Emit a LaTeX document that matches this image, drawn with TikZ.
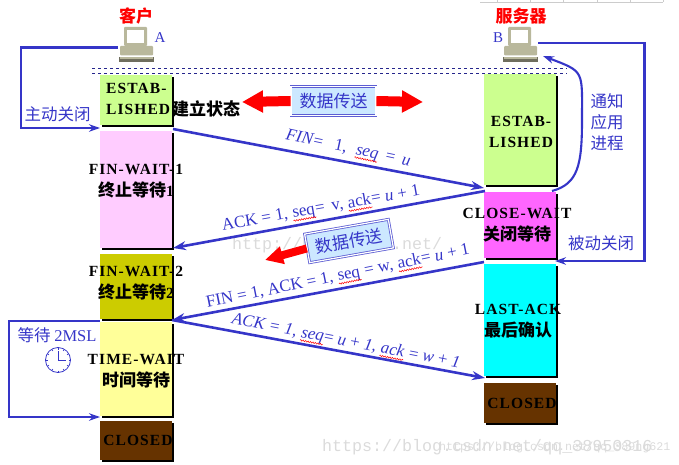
\documentclass[tikz,border=0pt]{standalone}
\usepackage{fontspec}
\usepackage{tikz}
\usetikzlibrary{arrows.meta,shadows,decorations.pathmorphing}
\setmainfont{Liberation Serif}
\newfontfamily\cjk{Noto Sans CJK SC}
\newfontfamily\statefont[LetterSpace=7]{Liberation Serif}
\newfontfamily\markfont{Liberation Mono}
\definecolor{flowblue}{HTML}{3535C8}
\definecolor{boxblue}{HTML}{CCE8FF}
\definecolor{hostgray}{HTML}{B9B89C}
\definecolor{closedbrown}{HTML}{663300}
\newcommand{\spellmark}[1]{\tikz[baseline=(word.base),x=1pt,y=1pt]{\node[inner sep=0pt] (word) {#1};
  \draw[red,line width=0.5pt,decorate,decoration={snake,amplitude=0.7pt,segment length=2.5pt}] ([yshift=-3pt]word.base west) -- ([yshift=-3pt]word.base east);}}

\tikzset{
  computer/.pic={
    \fill[hostgray,rounded corners=1pt] (-12,-18) rectangle (11,1);
    \fill[white] (-9,-15) rectangle (8,-2);
    \fill[hostgray,rounded corners=1pt] (-16,1) rectangle (17,10.5);
    \fill[hostgray!60!black] (-17,12) rectangle (18,17.5);
    \fill[hostgray] (-16,12) rectangle (17,14.5);
  }
}

\begin{document}
\begin{tikzpicture}[
  x=1pt,y=-1pt,
  statebox/.style={inner sep=0pt,minimum width=72pt,
    drop shadow={shadow xshift=2pt,shadow yshift=-2pt,fill=black,opacity=1}},
  statetext/.style={align=center,inner sep=0pt,font=\fontsize{15.5}{21.5}\selectfont\statefont\bfseries},
  hostbox/.style={inner sep=0pt,minimum width=36pt,minimum height=36pt},
  flow/.style={draw=flowblue,line width=2.6pt},
  flowarrow/.style={flow,-{Stealth[length=13pt,width=9pt]}},
  loopline/.style={draw=flowblue,line width=2.1pt,-{Stealth[length=11pt,width=7.5pt]}},
  msgtext/.style={inner sep=0pt,text=flowblue,font=\fontsize{17}{18}\selectfont},
  notetext/.style={inner sep=0pt,text=flowblue,align=center,font=\fontsize{16.5}{21}\selectfont\cjk},
  titletext/.style={inner sep=0pt,text=red,font=\fontsize{17}{18}\selectfont\cjk\bfseries},
  databox/.style={draw=flowblue!80,line width=0.8pt,double=white,double distance=1.2pt,fill=boxblue,inner sep=0pt,
    minimum width=85pt,minimum height=29pt,text=flowblue,font=\fontsize{17}{18}\selectfont\cjk},
  bigarrow/.style={draw=red,line width=10pt,-{Triangle[length=21pt,width=21pt]}},
  smallarrow/.style={draw=red,line width=8pt,-{Triangle[length=18pt,width=17pt]}},
  watermark/.style={inner sep=0pt,text=black!14,font=\fontsize{16.67}{18}\selectfont\markfont}
]
  \useasboundingbox (0,0) rectangle (679,465);
  % table remains at the top edge
  \draw[black!20,line width=0.8pt] (480,2.5) -- (663,2.5);
  \foreach \gridx in {497,530,563,597,630,663}
    \draw[black!20,line width=0.8pt] (\gridx,0) -- (\gridx,2.5);

  % watermarks
  \node[watermark,anchor=west] (markmid) at (232,245) {http://blog.csdn.net/};
  \node[watermark,anchor=west] (markbig) at (322,447) {https://blog.csdn.net/qq\_38950316};
  \node[watermark,anchor=west,font=\fontsize{11.67}{14}\selectfont\markfont] (marksmall) at (439,447) {https://blog.csdn.net/qq\_389ng621};

  % hosts
  \node[hostbox] (hostA) at (136,45) {};
  \pic at (hostA) {computer};
  \node[hostbox] (hostB) at (520,45) {};
  \pic at (hostB) {computer};
  \node[titletext] (titleA) at (136,16) {客户};
  \node[titletext] (titleB) at (521,16) {服务器};
  \node[inner sep=0pt,text=flowblue,font=\fontsize{15}{18}\selectfont] (nameA) at (160,38) {A};
  \node[inner sep=0pt,text=flowblue,font=\fontsize{15}{18}\selectfont] (nameB) at (498,38) {B};

  % dashed rules
  \coordinate (ruleAa) at (92,68);
  \coordinate (ruleAb) at (567,68);
  \coordinate (ruleBa) at (92,73);
  \coordinate (ruleBb) at (567,73);
  \draw[flowblue!70!black,dashed,line width=0.8pt] (ruleAa) -- (ruleAb);
  \draw[flowblue!70!black,dashed,line width=0.8pt] (ruleBa) -- (ruleBb);

  % client states
  \node[statebox,fill={rgb,255:red,204;green,255;blue,143},minimum height=50pt] (estabA) at (136,100) {};
  \node[statebox,fill={rgb,255:red,255;green,204;blue,255},minimum height=117pt] (finoneA) at (136,189.5) {};
  \node[statebox,fill={rgb,255:red,204;green,204;blue,0},minimum height=65pt] (fintwoA) at (136,286.5) {};
  \node[statebox,fill={rgb,255:red,255;green,255;blue,153},minimum height=94pt] (timeA) at (136,369) {};
  \node[statebox,fill=closedbrown,minimum height=39pt] (closedA) at (136,440.5) {};

  % server states
  \node[statebox,fill={rgb,255:red,204;green,255;blue,143},minimum height=111pt] (estabB) at (520,129.5) {};
  \node[statebox,fill={rgb,255:red,255;green,102;blue,255},minimum height=66pt] (closewaitB) at (520,225) {};
  \node[statebox,fill={rgb,255:red,0;green,255;blue,255},minimum height=112pt] (lastackB) at (520,320) {};
  \node[statebox,fill=closedbrown,minimum height=40pt] (closedB) at (520,403) {};

  % messages
  \coordinate (finstartA) at (173,129);
  \coordinate (finendB) at (484,188);
  \coordinate (ackstartB) at (485,191);
  \coordinate (ackendA) at (173,248);
  \coordinate (lastfinB) at (484,262);
  \coordinate (lastfinA) at (172,320);
  \coordinate (lastackA) at (172,320);
  \coordinate (lastackendB) at (485,378);
  \draw[flowarrow] (finstartA) -- (finendB);
  \draw[flowarrow] (ackstartB) -- (ackendA);
  \draw[flowarrow] (lastfinB) -- (lastfinA);
  \draw[flowarrow] (lastackA) -- (lastackendB);
  \node[msgtext,rotate=-12] (msgfin) at (348,149) {\textit{FIN}=\;\, 1,\; \spellmark{\textit{seq}} \,=\, \textit{u}};
  \node[msgtext,rotate=10] (msgack) at (321,209) {ACK = 1, \spellmark{seq}= \,v, \spellmark{ack}= \textit{u} + 1};
  \node[msgtext,rotate=11.5] (msglastfin) at (338,277) {FIN = 1, ACK = 1, \spellmark{seq} = w, \spellmark{ack}= \textit{u} + 1};
  \node[msgtext,rotate=-11] (msglastack) at (346,342) {\textit{ACK = 1,} \spellmark{\textit{seq}}= \textit{u} + \textit{1, }\spellmark{\textit{ack}} = \textit{w} + \textit{1}};

  % data transfer
  \node[databox] (dataone) at (333.5,101) {数据传送};
  \coordinate (datatipL) at (242,102);
  \coordinate (datatipR) at (423,102);
  \draw[bigarrow] (dataone.west) -- (datatipL);
  \draw[bigarrow] (dataone.east) -- (datatipR);
  \node[databox,rotate=10] (datatwo) at (349,241) {数据传送};
  \coordinate (datatipT) at (265,260);
  \draw[smallarrow] (datatwo.west) -- (datatipT);

  % side loops
  \coordinate (loopAtop) at (21,47.5);
  \coordinate (gapA) at (100,128);
  \draw[loopline] ([yshift=-2.5pt]hostA.west) -- (loopAtop) |- (gapA);
  \coordinate (loopBtop) at (644.5,43);
  \coordinate (gapB) at (555,261);
  \draw[loopline] ([yshift=2pt]hostB.east) -- (loopBtop) |- (gapB);
  \coordinate (loopTa) at (100,321);
  \coordinate (loopTb) at (9,321);
  \coordinate (loopTc) at (100,417);
  \draw[loopline] (loopTa) -- (loopTb) |- (loopTc);
  \coordinate (notifystart) at (552,191);
  \coordinate (notifyend) at (543,56);
  \draw[loopline] (notifystart) .. controls (578,184) and (582,165) .. (582,120)
    .. controls (582,70) and (585,72) .. (notifyend);

  \node[notetext] (noteactive) at (57.5,114) {主动关闭};
  \node[notetext] (notepassive) at (601,243) {被动关闭};
  \node[notetext] (notenotify) at (607,122) {通知\\应用\\进程};
  \node[notetext] (notewait) at (57,335) {等待 {\fontspec{Liberation Serif}2MSL}};

  % clock
  \node[circle,draw=flowblue,line width=0.8pt,inner sep=0pt,minimum size=25pt] (clock) at (58,360) {};
  \foreach \tickangle in {0,30,...,330}
    \draw[flowblue,line width=0.7pt] (clock.center) ++(\tickangle:10.5) -- ++(\tickangle:1.5);
  \draw[flowblue,line width=0.8pt] (clock.center) -- ++(0,-9);
  \draw[flowblue,line width=0.8pt] (clock.center) -- ++(8,0);

  % state names
  \node[statetext,align=left,anchor=north west] (textestabA) at (106,83) {ESTAB-\\LISHED};
  \node[inner sep=0pt,font=\fontsize{17}{18}\selectfont\cjk\bfseries] (textsetup) at (206,109) {建立状态};
  \node[statetext] (textfinone) at (136,181) {FIN-WAIT-1\\{\fontsize{17}{22}\selectfont\cjk 终止等待}1};
  \node[statetext] (textfintwo) at (136,283) {FIN-WAIT-2\\{\fontsize{17}{22}\selectfont\cjk 终止等待}2};
  \node[statetext] (texttime) at (136,371) {TIME-WAIT\\{\fontsize{17}{22}\selectfont\cjk 时间等待}};
  \node[statetext] (textclosedA) at (138,440) {CLOSED};
  \node[statetext] (textestabB) at (521,132) {ESTAB-\\LISHED};
  \node[statetext] (textclosewait) at (517,225) {CLOSE-WAIT\\{\fontsize{17}{22}\selectfont\cjk 关闭等待}};
  \node[statetext] (textlastack) at (518,321) {LAST-ACK\\{\fontsize{17}{22}\selectfont\cjk 最后确认}};
  \node[statetext] (textclosedB) at (522,403) {CLOSED};
\end{tikzpicture}
\end{document}
